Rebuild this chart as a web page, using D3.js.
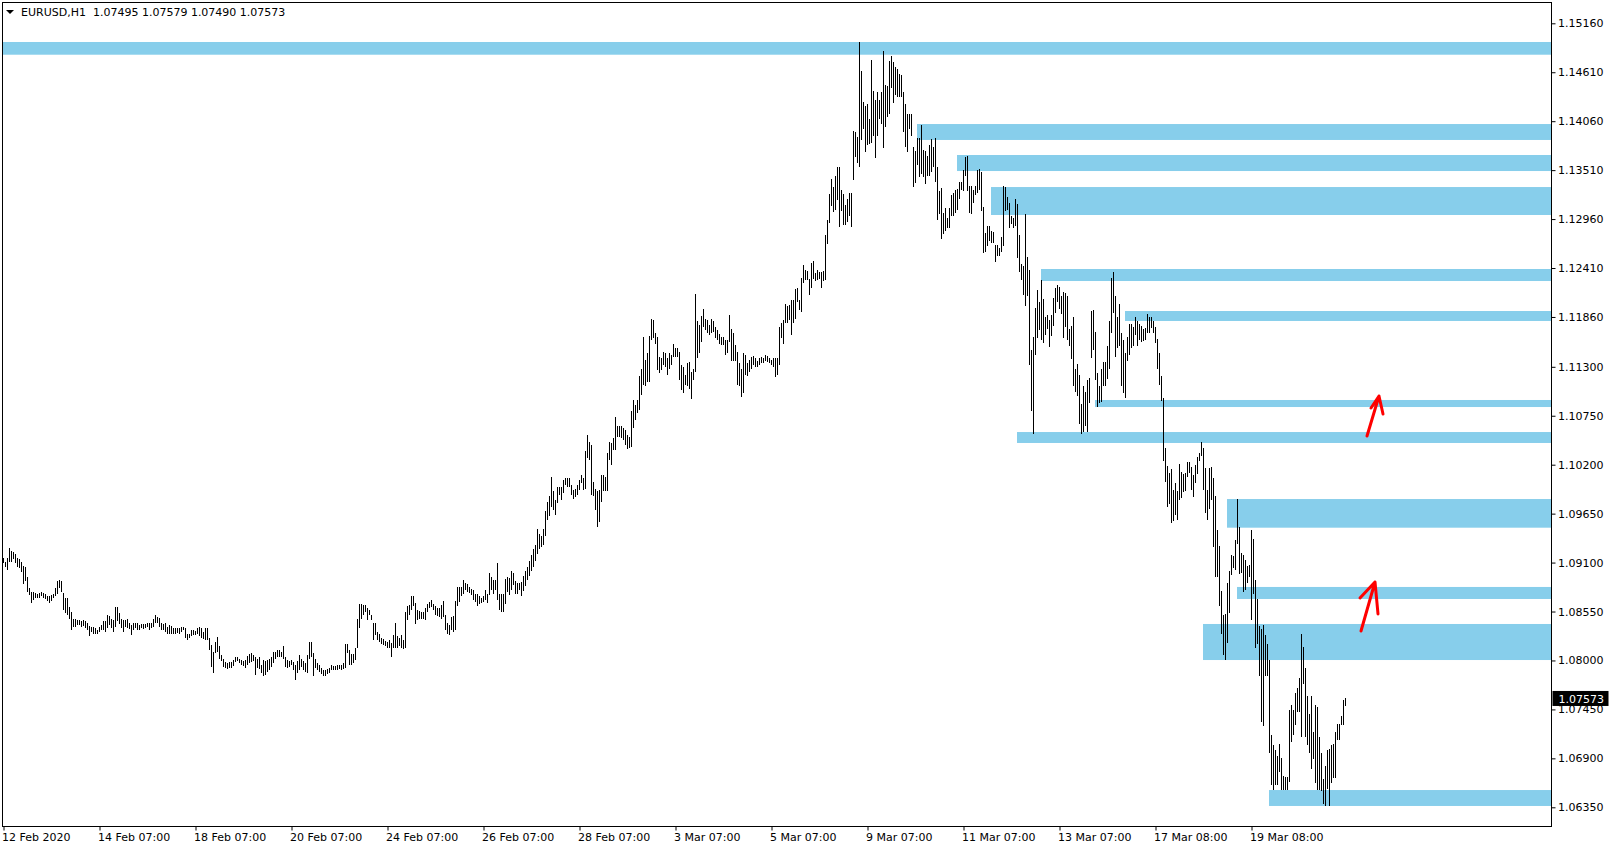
<!DOCTYPE html>
<html><head><meta charset="utf-8">
<script src="https://cdn.jsdelivr.net/npm/d3@7"></script>
<style>
html,body{margin:0;padding:0;background:#fff;}
svg{display:block;}
text{font-family:"DejaVu Sans",sans-serif;font-size:11px;fill:#000;}
</style>
</head><body>
<svg id="chart" width="1615" height="850"></svg>
<script>
// ---------------- DATA ----------------
const symbol = "EURUSD,H1";
const lastOHLC = [1.07495, 1.07579, 1.07490, 1.07573];

const highs = [
1.0915,1.0911,1.0915,1.0926,1.0923,1.0922,1.0920,1.0915,1.0914,1.0911,
1.0906,1.0905,1.0894,1.0881,1.0877,1.0877,1.0876,1.0875,1.0876,1.0877,
1.0876,1.0875,1.0872,1.0872,1.0874,1.0875,1.0881,1.0889,1.0890,1.0889,
1.0876,1.0870,1.0870,1.0860,1.0855,1.0847,1.0847,1.0845,1.0846,1.0844,
1.0845,1.0844,1.0842,1.0839,1.0838,1.0838,1.0836,1.0834,1.0838,1.0840,
1.0844,1.0844,1.0851,1.0850,1.0847,1.0845,1.0860,1.0860,1.0853,1.0847,
1.0846,1.0845,1.0847,1.0842,1.0840,1.0842,1.0842,1.0842,1.0840,1.0841,
1.0841,1.0841,1.0842,1.0842,1.0842,1.0847,1.0851,1.0849,1.0848,1.0842,
1.0841,1.0842,1.0838,1.0840,1.0839,1.0836,1.0836,1.0836,1.0837,1.0838,
1.0838,1.0837,1.0830,1.0830,1.0834,1.0834,1.0833,1.0837,1.0838,1.0837,
1.0832,1.0837,1.0836,1.0825,1.0817,1.0810,1.0821,1.0826,1.0816,1.0806,
1.0802,1.0798,1.0797,1.0798,1.0798,1.0801,1.0804,1.0804,1.0802,1.0801,
1.0799,1.0801,1.0805,1.0807,1.0808,1.0806,1.0804,1.0802,1.0804,1.0795,
1.0801,1.0799,1.0801,1.0802,1.0804,1.0810,1.0810,1.0812,1.0812,1.0810,
1.0816,1.0804,1.0801,1.0799,1.0800,1.0798,1.0795,1.0799,1.0806,1.0802,
1.0799,1.0797,1.0806,1.0821,1.0821,1.0808,1.0802,1.0797,1.0795,1.0791,
1.0789,1.0789,1.0790,1.0792,1.0795,1.0794,1.0794,1.0795,1.0795,1.0795,
1.0797,1.0819,1.0819,1.0812,1.0807,1.0807,1.0814,1.0847,1.0864,1.0864,
1.0862,1.0862,1.0859,1.0857,1.0851,1.0842,1.0842,1.0832,1.0830,1.0825,
1.0824,1.0822,1.0821,1.0823,1.0820,1.0829,1.0842,1.0827,1.0825,1.0829,
1.0823,1.0854,1.0861,1.0862,1.0872,1.0872,1.0865,1.0857,1.0856,1.0855,
1.0855,1.0859,1.0864,1.0866,1.0868,1.0864,1.0861,1.0859,1.0859,1.0862,
1.0867,1.0851,1.0842,1.0840,1.0849,1.0850,1.0867,1.0883,1.0883,1.0883,
1.0890,1.0887,1.0886,1.0883,1.0880,1.0879,1.0875,1.0875,1.0872,1.0870,
1.0872,1.0879,1.0875,1.0898,1.0894,1.0890,1.0890,1.0909,1.0875,1.0875,
1.0875,1.0892,1.0894,1.0893,1.0900,1.0898,1.0889,1.0887,1.0887,1.0888,
1.0895,1.0900,1.0905,1.0912,1.0918,1.0925,1.0930,1.0948,1.0942,1.0940,
1.0948,1.0968,1.0978,1.0985,1.1006,1.0990,1.0980,1.0995,1.0995,1.0995,
1.1003,1.1005,1.1005,1.1005,1.0997,1.0992,1.0993,1.0997,1.1003,1.1008,
1.1005,1.1035,1.1053,1.1046,1.1042,1.1001,1.0993,1.0990,1.0991,1.1008,
1.1008,1.1006,1.1033,1.1046,1.1044,1.1050,1.1074,1.1064,1.1064,1.1063,
1.1061,1.1059,1.1053,1.1051,1.1080,1.1093,1.1087,1.1093,1.1120,1.1127,
1.1164,1.1138,1.1145,1.1165,1.1184,1.1183,1.1168,1.1164,1.1141,1.1140,
1.1147,1.1146,1.1140,1.1146,1.1143,1.1156,1.1151,1.1151,1.1147,1.1132,
1.1130,1.1121,1.1134,1.1135,1.1124,1.1128,1.1212,1.1181,1.1177,1.1187,
1.1195,1.1184,1.1183,1.1177,1.1184,1.1181,1.1175,1.1171,1.1167,1.1164,
1.1164,1.1160,1.1160,1.1188,1.1172,1.1168,1.1155,1.1147,1.1134,1.1128,
1.1145,1.1143,1.1134,1.1138,1.1141,1.1142,1.1140,1.1136,1.1140,1.1141,
1.1140,1.1143,1.1142,1.1140,1.1138,1.1140,1.1140,1.1140,1.1175,1.1179,
1.1183,1.1201,1.1198,1.1199,1.1205,1.1205,1.1217,1.1218,1.1205,1.1230,
1.1244,1.1239,1.1238,1.1229,1.1247,1.1249,1.1235,1.1239,1.1237,1.1237,
1.1238,1.1278,1.1295,1.1324,1.1341,1.1332,1.1344,1.1355,1.1355,1.1329,
1.1324,1.1312,1.1318,1.1325,1.1325,1.1395,1.1394,1.1388,1.1495,1.1462,
1.1428,1.1423,1.1425,1.1409,1.1475,1.1440,1.1430,1.1439,1.1430,1.1439,
1.1485,1.1447,1.1446,1.1474,1.1479,1.1473,1.1467,1.1465,1.1459,1.1458,
1.1439,1.1425,1.1414,1.1414,1.1414,1.1377,1.1372,1.1387,1.1387,1.1402,
1.1374,1.1373,1.1367,1.1379,1.1386,1.1377,1.1387,1.1355,1.1328,1.1331,
1.1303,1.1308,1.1297,1.1308,1.1323,1.1325,1.1329,1.1330,1.1338,1.1338,
1.1351,1.1366,1.1367,1.1333,1.1333,1.1329,1.1333,1.1351,1.1352,1.1349,
1.1310,1.1280,1.1288,1.1288,1.1283,1.1281,1.1267,1.1267,1.1263,1.1276,
1.1333,1.1332,1.1321,1.1314,1.1299,1.1297,1.1319,1.1313,1.1278,1.1245,
1.1243,1.1302,1.1253,1.1239,1.1149,1.1164,1.1196,1.1216,1.1203,1.1227,
1.1206,1.1186,1.1188,1.1183,1.1188,1.1207,1.1218,1.1222,1.1220,1.1210,
1.1214,1.1213,1.1209,1.1173,1.1176,1.1186,1.1127,1.1133,1.1121,1.1088,
1.1108,1.1102,1.1115,1.1117,1.1193,1.1194,1.1169,1.1123,1.1108,1.1128,
1.1135,1.1135,1.1153,1.1181,1.1230,1.1237,1.1209,1.1186,1.1201,1.1168,
1.1160,1.1145,1.1164,1.1178,1.1178,1.1175,1.1186,1.1182,1.1178,1.1176,
1.1173,1.1174,1.1189,1.1186,1.1186,1.1182,1.1175,1.1161,1.1146,1.1120,
1.1095,1.1039,1.1018,1.1011,1.1015,1.0992,1.0999,1.0990,1.1021,1.1012,
1.1010,1.1011,1.1023,1.1023,1.1017,1.1008,1.1020,1.1029,1.1033,1.1045,
1.1039,1.1016,1.0992,1.1016,1.1017,1.1005,1.0985,1.0947,1.0929,1.0878,
1.0851,1.0852,1.0887,1.0901,1.0918,1.0917,1.0935,1.0981,1.0950,1.0921,
1.0919,1.0913,1.0906,1.0907,1.0947,1.0936,1.0890,1.0869,1.0839,1.0835,
1.0840,1.0829,1.0818,1.0800,1.0716,1.0705,1.0699,1.0693,1.0706,1.0690,
1.0670,1.0669,1.0669,1.0744,1.0750,1.0744,1.0764,1.0769,1.0780,1.0830,
1.0815,1.0791,1.0760,1.0740,1.0760,1.0720,1.0750,1.0748,1.0714,1.0696,
1.0667,1.0681,1.0699,1.0701,1.0705,1.0706,1.0720,1.0729,1.0729,1.0738,
1.0756,1.0758
];

const lows = [
1.0909,1.0905,1.0902,1.0911,1.0911,1.0914,1.0909,1.0905,1.0904,1.0899,
1.0886,1.0889,1.0877,1.0874,1.0865,1.0868,1.0870,1.0870,1.0870,1.0872,
1.0870,1.0869,1.0867,1.0865,1.0867,1.0870,1.0872,1.0875,1.0881,1.0877,
1.0857,1.0853,1.0851,1.0847,1.0834,1.0838,1.0838,1.0840,1.0840,1.0838,
1.0839,1.0836,1.0834,1.0827,1.0832,1.0830,1.0830,1.0830,1.0832,1.0834,
1.0834,1.0832,1.0836,1.0840,1.0836,1.0832,1.0838,1.0844,1.0841,1.0836,
1.0832,1.0838,1.0836,1.0835,1.0829,1.0834,1.0836,1.0834,1.0834,1.0836,
1.0835,1.0836,1.0838,1.0834,1.0836,1.0838,1.0842,1.0842,1.0838,1.0834,
1.0834,1.0832,1.0830,1.0830,1.0830,1.0830,1.0830,1.0831,1.0830,1.0832,
1.0834,1.0825,1.0823,1.0825,1.0827,1.0829,1.0829,1.0830,1.0827,1.0825,
1.0824,1.0823,1.0823,1.0812,1.0793,1.0786,1.0808,1.0810,1.0802,1.0799,
1.0793,1.0791,1.0790,1.0791,1.0792,1.0794,1.0798,1.0799,1.0797,1.0795,
1.0794,1.0791,1.0795,1.0797,1.0798,1.0799,1.0784,1.0791,1.0790,1.0786,
1.0782,1.0784,1.0787,1.0789,1.0793,1.0797,1.0802,1.0804,1.0804,1.0804,
1.0802,1.0793,1.0791,1.0793,1.0795,1.0789,1.0778,1.0786,1.0789,1.0793,
1.0789,1.0787,1.0786,1.0802,1.0804,1.0782,1.0791,1.0789,1.0787,1.0785,
1.0783,1.0783,1.0785,1.0786,1.0789,1.0789,1.0789,1.0789,1.0790,1.0789,
1.0790,1.0791,1.0808,1.0795,1.0795,1.0797,1.0801,1.0814,1.0836,1.0847,
1.0851,1.0854,1.0845,1.0851,1.0845,1.0823,1.0829,1.0823,1.0821,1.0819,
1.0817,1.0816,1.0814,1.0814,1.0804,1.0814,1.0814,1.0814,1.0816,1.0814,
1.0813,1.0814,1.0845,1.0851,1.0857,1.0861,1.0841,1.0845,1.0847,1.0847,
1.0847,1.0846,1.0855,1.0859,1.0860,1.0857,1.0851,1.0850,1.0849,1.0847,
1.0849,1.0834,1.0830,1.0829,1.0834,1.0832,1.0834,1.0861,1.0866,1.0872,
1.0875,1.0879,1.0877,1.0876,1.0874,1.0868,1.0866,1.0861,1.0864,1.0865,
1.0866,1.0868,1.0865,1.0874,1.0879,1.0875,1.0879,1.0868,1.0857,1.0855,
1.0855,1.0864,1.0877,1.0874,1.0879,1.0885,1.0875,1.0875,1.0879,1.0872,
1.0878,1.0884,1.0890,1.0895,1.0900,1.0905,1.0912,1.0920,1.0925,1.0928,
1.0930,1.0940,1.0958,1.0962,1.0973,1.0969,1.0963,1.0977,1.0986,1.0980,
1.0988,1.0997,1.0995,1.0995,1.0986,1.0981,1.0984,1.0986,1.0992,1.0999,
1.0992,1.0993,1.1027,1.1025,1.0986,1.0985,1.0969,1.0950,1.0956,1.0978,
1.0990,1.0990,1.0990,1.1025,1.1020,1.1036,1.1036,1.1051,1.1051,1.1050,
1.1048,1.1042,1.1038,1.1039,1.1040,1.1061,1.1070,1.1078,1.1081,1.1098,
1.1110,1.1108,1.1113,1.1113,1.1160,1.1162,1.1156,1.1126,1.1123,1.1126,
1.1132,1.1130,1.1121,1.1128,1.1132,1.1141,1.1141,1.1141,1.1115,1.1104,
1.1100,1.1110,1.1108,1.1105,1.1094,1.1115,1.1124,1.1140,1.1145,1.1158,
1.1175,1.1171,1.1168,1.1166,1.1168,1.1169,1.1162,1.1160,1.1156,1.1155,
1.1155,1.1143,1.1145,1.1158,1.1136,1.1136,1.1136,1.1110,1.1108,1.1096,
1.1100,1.1121,1.1120,1.1124,1.1128,1.1132,1.1130,1.1130,1.1132,1.1134,
1.1134,1.1136,1.1135,1.1134,1.1132,1.1130,1.1119,1.1121,1.1132,1.1162,
1.1156,1.1179,1.1179,1.1183,1.1166,1.1179,1.1184,1.1203,1.1194,1.1192,
1.1224,1.1228,1.1228,1.1211,1.1218,1.1229,1.1226,1.1228,1.1229,1.1219,
1.1226,1.1228,1.1268,1.1292,1.1311,1.1304,1.1306,1.1317,1.1287,1.1305,
1.1289,1.1289,1.1293,1.1299,1.1287,1.1340,1.1366,1.1359,1.1355,1.1385,
1.1397,1.1371,1.1379,1.1380,1.1381,1.1389,1.1365,1.1389,1.1409,1.1403,
1.1376,1.1399,1.1411,1.1414,1.1443,1.1427,1.1435,1.1433,1.1433,1.1433,
1.1394,1.1377,1.1371,1.1397,1.1389,1.1332,1.1336,1.1357,1.1343,1.1347,
1.1343,1.1335,1.1344,1.1344,1.1349,1.1355,1.1338,1.1295,1.1302,1.1274,
1.1279,1.1283,1.1286,1.1286,1.1300,1.1300,1.1303,1.1306,1.1319,1.1329,
1.1327,1.1344,1.1327,1.1303,1.1302,1.1314,1.1323,1.1325,1.1329,1.1305,
1.1258,1.1259,1.1266,1.1271,1.1269,1.1269,1.1248,1.1254,1.1254,1.1259,
1.1266,1.1305,1.1306,1.1286,1.1291,1.1286,1.1288,1.1252,1.1237,1.1227,
1.1211,1.1198,1.1210,1.1132,1.1080,1.1055,1.1143,1.1162,1.1171,1.1160,
1.1157,1.1166,1.1173,1.1152,1.1165,1.1176,1.1190,1.1203,1.1195,1.1189,
1.1162,1.1175,1.1160,1.1153,1.1139,1.1108,1.1102,1.1097,1.1066,1.1055,
1.1057,1.1063,1.1057,1.1089,1.1140,1.1149,1.1115,1.1085,1.1089,1.1091,
1.1108,1.1108,1.1116,1.1128,1.1168,1.1190,1.1141,1.1151,1.1153,1.1108,
1.1101,1.1095,1.1136,1.1143,1.1151,1.1153,1.1166,1.1153,1.1160,1.1158,
1.1159,1.1160,1.1168,1.1168,1.1174,1.1168,1.1157,1.1128,1.1109,1.1092,
1.1024,1.1000,1.0973,1.0976,1.0955,1.0957,1.0963,1.0958,1.0980,1.0983,
1.0989,1.0990,1.1006,1.1011,1.0991,1.0984,1.0999,1.1010,1.1024,1.1030,
1.0992,1.0966,1.0958,1.0970,1.0980,1.0928,1.0894,1.0894,1.0861,1.0830,
1.0806,1.0801,1.0820,1.0853,1.0896,1.0904,1.0902,1.0931,1.0897,1.0898,
1.0877,1.0879,1.0887,1.0894,1.0846,1.0875,1.0814,1.0818,1.0782,1.0731,
1.0726,1.0782,1.0782,1.0696,1.0660,1.0655,1.0660,1.0660,1.0675,1.0654,
1.0654,1.0654,1.0654,1.0663,1.0708,1.0716,1.0728,1.0742,1.0742,1.0714,
1.0774,1.0714,1.0705,1.0696,1.0678,1.0689,1.0662,1.0654,1.0654,1.0653,
1.0639,1.0636,1.0656,1.0636,1.0662,1.0668,1.0668,1.0711,1.0711,1.0727,
1.0727,1.0749
];

const priceTicks = [1.15160,1.14610,1.14060,1.13510,1.12960,1.12410,1.11860,1.11300,
  1.10750,1.10200,1.09650,1.09100,1.08550,1.08000,1.07450,1.06900,1.06350];

const timeLabels = ["12 Feb 2020","14 Feb 07:00","18 Feb 07:00","20 Feb 07:00","24 Feb 07:00",
  "26 Feb 07:00","28 Feb 07:00","3 Mar 07:00","5 Mar 07:00","9 Mar 07:00","11 Mar 07:00",
  "13 Mar 07:00","17 Mar 08:00","19 Mar 08:00"];
const timeTickBars = [0,48,96,144,192,240,288,336,384,432,480,528,576,624];

// supply / demand zones: start bar, top price, bottom price (extend to right edge)
const zoneStart  = [0, 457, 477, 494, 519, 561, 546, 507, 612, 617, 600, 633];
const zoneTop    = [1.14950,1.14028,1.13680,1.13320,1.12399,1.11927,1.10927,1.10567,1.09814,1.08826,1.08410,1.06544];
const zoneBottom = [1.14807,1.13849,1.13500,1.13006,1.12264,1.11815,1.10848,1.10444,1.09492,1.08691,1.08005,1.06365];

// hand-drawn arrows: tail and tip as [bar index, price]
const arrowTail = [[681.75,1.10522],[678.75,1.08331]];
const arrowTip  = [[687.75,1.10972],[685.75,1.08882]];

// ---------------- LAYOUT / STYLE ----------------
const frame = {left:2.5, top:2.5, right:1551.5, bottom:826.5};
const zoneColor = "#87CEEB";
const arrowWings = [[[-8,12],[4,18]], [[-15,16],[3,32]]];

const svg = d3.select("#chart");
const n = Math.min(highs.length, lows.length);

const x = d3.scaleLinear().domain([0, 671]).range([3.5, 1345.5]);
const y = d3.scaleLinear().domain([1.0635, 1.1516]).range([807.3, 23.3]);

// zones
svg.append("g").selectAll("rect").data(zoneStart).join("rect")
  .attr("x", (d,i) => i === 0 ? frame.left + 0.5 : x(d) - 0.5)
  .attr("y", (d,i) => y(zoneTop[i]))
  .attr("width", (d,i) => frame.right - (i === 0 ? frame.left + 0.5 : x(d) - 0.5))
  .attr("height", (d,i) => y(zoneBottom[i]) - y(zoneTop[i]))
  .attr("fill", zoneColor);

// bars (high-low)
svg.append("g").attr("shape-rendering","crispEdges")
  .selectAll("line").data(d3.range(n)).join("line")
  .attr("x1", i => x(i)).attr("x2", i => x(i))
  .attr("y1", i => y(highs[i]))
  .attr("y2", i => Math.max(y(lows[i]), y(highs[i]) + 1))
  .attr("stroke", "#000").attr("stroke-width", 1);

// frame
svg.append("rect")
  .attr("x", frame.left).attr("y", frame.top)
  .attr("width", frame.right - frame.left).attr("height", frame.bottom - frame.top)
  .attr("fill","none").attr("stroke","#000").attr("stroke-width",1)
  .attr("shape-rendering","crispEdges");

// price axis
const yAxis = svg.append("g").attr("transform", `translate(${frame.right},0)`)
  .call(d3.axisRight(y).tickValues(priceTicks).tickSize(4).tickFormat(d3.format(".5f")));
yAxis.select(".domain").remove();
yAxis.selectAll("text").attr("x", 6.5).style("font-family","DejaVu Sans").style("font-size","11px").attr("fill","#000");
yAxis.selectAll("line").attr("stroke","#000");

// time axis
const xAxis = svg.append("g").attr("transform", `translate(0,${frame.bottom})`)
  .call(d3.axisBottom(x).tickValues(timeTickBars).tickSize(4).tickFormat((d,i) => timeLabels[i]));
xAxis.select(".domain").remove();
xAxis.selectAll("text").attr("text-anchor","start").attr("x", -2).attr("y", 6.5)
  .style("font-family","DejaVu Sans").style("font-size","11px").attr("fill","#000");
xAxis.selectAll("line").attr("stroke","#000");

// current price label
const close = lastOHLC[3];
svg.append("rect").attr("x", frame.right + 1).attr("y", y(close) - 7.5)
  .attr("width", 56).attr("height", 15).attr("fill", "#000");
svg.append("text").attr("x", frame.right + 7).attr("y", y(close) + 4.5)
  .attr("fill","#fff").style("fill","#fff").text(d3.format(".5f")(close));

// header
svg.append("path").attr("d","M6,10 L14,10 L10,14 Z").attr("fill","#000");
svg.append("text").attr("x", 21).attr("y", 16).attr("xml:space","preserve")
  .text(symbol + "  " + lastOHLC.map(d3.format(".5f")).join(" "));

// arrows
const ag = svg.append("g").attr("fill","none").attr("stroke","#ff0000")
  .attr("stroke-width",3).attr("stroke-linecap","round").attr("stroke-linejoin","round");
arrowTail.forEach((t,i) => {
  const tx = x(t[0]), ty = y(t[1]);
  const px = x(arrowTip[i][0]), py = y(arrowTip[i][1]);
  const w = arrowWings[i];
  ag.append("path").attr("d",
    `M${tx},${ty} L${px},${py} M${px + w[0][0]},${py + w[0][1]} L${px},${py} L${px + w[1][0]},${py + w[1][1]}`);
});
</script>
</body></html>
